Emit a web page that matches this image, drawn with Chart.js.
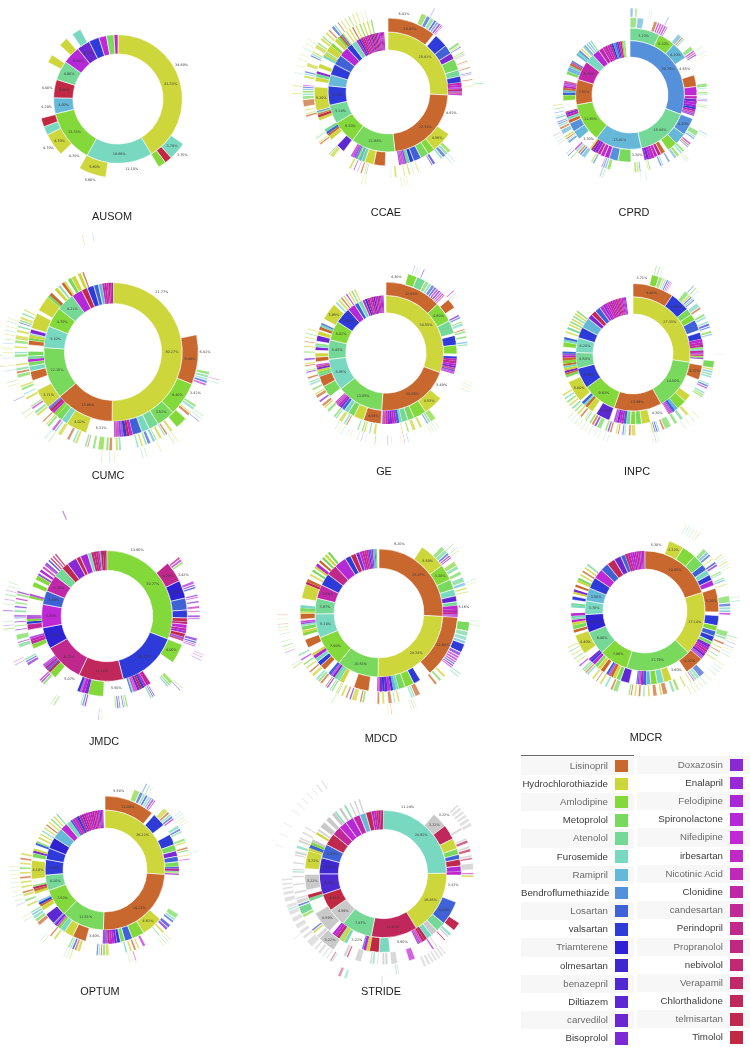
<!DOCTYPE html>
<html><head><meta charset="utf-8">
<script src="https://cdn.jsdelivr.net/npm/chart.js@4"></script>
<style>
html,body{margin:0;padding:0;background:#fff;width:750px;height:1051px;overflow:hidden;font-family:"Liberation Sans",Arial,sans-serif}
canvas{position:absolute;filter:blur(.35px);pointer-events:none}
.t{position:absolute;font-size:10.9px;color:#222;transform:translate(-50%,-50%);white-space:nowrap;filter:blur(.25px)}
.row{position:absolute;height:18.2px;line-height:18.2px;font-size:9.7px;text-align:right;filter:blur(.25px);white-space:nowrap}
.sw{position:absolute;width:12.5px;height:12.5px}
</style></head><body>
<script>
const DRUGS=["Lisinopril","Hydrochlorothiazide","Amlodipine","Metoprolol","Atenolol","Furosemide","Ramipril","Bendroflumethiazide","Losartan","valsartan","Triamterene","olmesartan","benazepril","Diltiazem","carvedilol","Bisoprolol","Doxazosin","Enalapril","Felodipine","Spironolactone","Nifedipine","irbesartan","Nicotinic Acid","Clonidine","candesartan","Perindopril","Propranolol","nebivolol","Verapamil","Chlorthalidone","telmisartan","Timolol"];
const DRUG_COLORS=["#C8682E","#CDD63A","#84D93A","#78D95C","#76D896","#78D8C0","#66B8D8","#5590DA","#3F63D6","#2E3BD9","#2E22D4","#3F28D0","#4E28D2","#5C28D4","#6C28D0","#7C28D4","#8A28D4","#9A28D6","#A828D8","#B428D8","#C028D6","#C028C8","#C028B8","#C028A8","#C02898","#C0288C","#C02880","#C02874","#C02868","#C0285C","#C02850","#C02844","#C9C9C9"];
// -1 = empty arc, -2 = empty arc with a percent label, 32 = unlisted (grey)

const AUSOM_r1v=[41.33,16.66,13.33,4.0,4.6,4.9,4.5,3.3,2.6,1.9,1.9,1.0];
const AUSOM_r1d=[1,5,2,6,31,4,19,14,9,20,3,22];
const AUSOM_r2v=[34.6,3.7,1.5,1.6,11.1,5.6,4.7,4.7,1.8,1.8,4.2,4.4,3.0,1.7,2.5,1.9,1.4,1.9];
const AUSOM_r2d=[-2,5,31,2,-2,1,-2,1,5,31,-2,-2,-1,1,-1,1,-1,5];
const AUSOM_r3v=[34.6,3.7,14.2,5.6,4.7,4.7];
const AUSOM_r3d=[-1,-2,-1,-2,-1,-2];

const CCAE_r1v=[25.81,22.31,11.94,6.3,5.1,5.21,3.0,3.0,2.8,2.6,1.6,1.5,.7,.5,.7,.5,.5,.4,.5,.4,.4,.4,.4,.4,.4,.4,.3,.3,.3,.3];
const CCAE_r1d=[1,0,3,2,4,9,6,9,8,19,9,5,21,9,24,26,22,18,28,20,13,25,30,16,23,19,22,17,27,21];
const CCAE_r2v=[10.63,.6,3,2,1.4,2.5,1.4,1.4,.5,.5,.4,.5,.3,.3,.3,8.92,4.56,1.6,1.8,1.7,.9,.7,.4,.4,.3,.3,.3,3,2.5,2,.8,.6,.4,.4,.4,.4,.3,1.8,1.9,1.7,1,.5,.6,.6,2.2,.7,.5,.4,.3,.3,5.2,1.2,1,.7,.5,.8,1,1.5,.6,.5,.4,1.6,.6,.6,.9,.5,.5,.4,.3,.6,.3,.5,.3,.5,.3,.5,.3,.6,.3,.5,.3,.6,.3,.6,.3];
const CCAE_r2d=[0,-1,9,8,15,3,4,9,23,20,19,26,17,27,21,-2,1,2,3,8,9,4,14,19,22,18,17,-1,0,1,4,6,2,8,15,19,22,-1,13,-1,1,0,8,4,-1,1,30,0,4,8,1,-1,1,4,16,-1,1,-1,5,1,4,1,2,-1,1,3,0,8,1,-1,1,-1,1,-1,0,-1,1,-1,2,-1,1,-1,1,-1,3];
const CCAE_r3v=[6.41,1.1,.8,.8,.5,.5,.5,.3,.2,4,.6,.3,.3,.8,.3,.3,.2,1,.3,.2,.8,.3,.7,.3,.2,.8,.3,1,.2,12.9,.7,.6,.7,.5,1.2,.6,.3,2.5,.3,.7,.2,.5,.4,.6,.3,1.3,.5,.5,.2,4.5,.3,.3,.3,.4,.4,.2,.5,.3,.4,.5,3.5,.8,.3,2.2,.4,.3,.6,.3,.2,4,.5,.3,.4,.3,.5,1.4,.7,.5,.5,.4,.4,.3,1.2,.6,.4,.4,.8,.8,1.2,.4,.4,.4,.6,.9,.4,.5,.6,.4,.5,.5,.3,.4,.4,.6,.4,.4,.3,.4,.3,.5,.3,.5,.3,.5,.3,.5,.3,.6,.2,.6,.2];
const CCAE_r3d=[-2,2,8,4,9,7,16,19,21,-1,3,1,8,-1,2,4,0,-1,0,1,-1,0,-1,8,15,-1,0,-1,1,-1,2,4,8,5,-1,9,14,-1,1,-1,4,-1,1,-1,1,-1,1,-1,4,-1,6,1,-1,0,-1,14,-1,15,-1,1,-1,1,4,-1,0,1,-1,5,1,-1,0,1,-1,1,-1,0,3,5,2,6,8,20,-1,1,5,8,-1,1,-1,8,5,1,-1,1,3,-1,1,3,-1,1,-1,0,-1,8,5,-1,0,-1,1,-1,1,-1,2,-1,1,-1,1,-1,1,-1,3];
const CCAE_r4v=[8,.2,15,.2,.3,14,.2,.4,.2,8,.2,.3,.2,.4,.2,6,.2,.4,.2,20,.3,1,.3,2,.2,1,.2,1,.2,.6,.2,1,.2,.6,.2,.6,.2];
const CCAE_r4d=[-1,9,-1,5,4,-1,6,-1,4,-1,1,-1,1,-1,4,-1,1,-1,1,-1,1,-1,1,-1,5,-1,1,-1,1,-1,1,-1,4,-1,1,-1,1];

const CPRD_r1v=[30.79,15.88,13.81,11.63,7.51,5.74,2.7,2.2,1.4,.7,.7,.7,.6,.6,.6,.5,.5,.5,.5,.4,.3,.3];
const CPRD_r1d=[7,4,6,2,0,23,5,19,23,21,24,20,26,9,7,8,14,22,27,3,1,4];
const CPRD_r2v=[7.23,4.1,4.2,4.65,2.8,2.2,.8,.7,.7,.6,.5,.5,.4,.4,.3,.69,4.3,2.8,2.5,.8,1.1,.9,.9,.7,.6,.6,.5,3.3,3.13,2.2,1.2,1,.8,.7,.6,.5,.4,3.3,2.2,2.2,.9,.7,.6,.5,.3,1,1.6,1.4,.6,.6,.5,.5,.4,.4,.4,1.6,.8,.6,.4,.5,.5,.4,.4,1.6,.5,.5,.4,.3,.3,.4,.4,.4,.3,.3,.3,.3,.3,.3,.3];
const CPRD_r2d=[4,2,6,-2,0,20,22,15,19,17,9,21,24,18,16,-1,7,6,2,-1,0,26,20,22,19,14,18,-2,3,7,19,21,24,17,15,27,1,-2,6,7,0,5,23,16,27,-1,-1,2,8,6,0,22,20,17,25,-1,3,6,7,5,0,25,8,-1,6,5,8,-1,1,-1,4,7,-1,6,-1,6,-1,4,-1];
const CPRD_r3v=[1.4,.1,1.4,2.1,.8,.5,.5,.5,.5,.3,2.5,1,.4,.4,1.8,1,.5,.4,.4,6,.9,.3,.6,.5,.3,.7,.3,.3,.7,.3,.3,5,1.2,.4,.4,.9,.5,.4,.3,.8,.6,.5,.3,.7,.6,1,.5,1,.4,.4,2,.4,.3,1.4,.4,.5,.5,5,.8,.5,.4,.3,1.5,.5,.4,1.4,.9,.5,.5,.5,.5,1.5,.6,.3,.4,.5,.4,1.1,.6,.5,.4,.4,.4,.5,.3,.4,.3,.5,.3,.5,.3];
const CPRD_r3d=[3,-1,6,-1,0,20,21,24,19,15,-1,6,0,5,-1,3,20,23,15,-1,3,5,-1,2,5,-1,8,19,-1,2,3,-1,3,5,7,-1,22,0,8,-1,3,5,-1,2,6,-1,7,-1,5,8,-1,3,1,-1,7,1,2,-1,2,6,8,23,-1,7,1,-1,6,8,0,5,20,-1,7,5,0,1,-1,6,0,5,8,7,-1,6,5,-1,7,-1,3,-1,1];
const CPRD_r4v=[.6,.3,.5,.2,2,.2,.2,.2,3,.3,8,.2,.8,.2,.5,.2,15,.3,.3,.2,5,.2,.2,.2,8,.2,.8,.2,7,.3,.2,.3,6,.3,.4,.3,.3,.2,2,.2,.3,.2,.4,.2,.5,.2];
const CPRD_r4d=[7,-1,3,-1,-1,5,-1,6,-1,7,-1,3,-1,5,-1,1,-1,6,-1,5,-1,2,-1,3,-1,6,-1,5,-1,3,-1,7,-1,3,-1,8,-1,7,-1,3,-1,6,-1,4,-1,23];

const CUMC_r1v=[50.27,13.66,12.15,5.1,4.7,4.21,2.5,1.4,1.6,1.1,.9,.5,.5,.4,.4,.4,.3];
const CUMC_r1d=[1,0,3,5,2,4,19,30,9,8,6,22,25,20,28,23,17];
const CUMC_r2v=[21.77,9.4,6.4,3.52,1.9,1.5,1.8,.6,.5,.6,.4,.4,.4,.3,.3,5.31,4.02,1.2,1.2,.7,.5,.5,.2,.2,.2,3.71,2,1.8,1,.8,.5,.6,.9,1.2,.9,.5,.5,.3,.8,.2,3,.6,3,.5,.6,.8,.6,.3,.4,.4,.5,.4,.5,.7,.9,.5,.6,.3,.3,.5];
const CUMC_r2d=[-2,0,2,3,4,5,8,20,30,9,17,13,21,24,19,-2,1,5,3,2,20,30,9,13,8,1,-1,0,5,3,20,4,3,-1,0,3,1,4,15,-1,1,-1,1,3,0,-1,1,-1,4,-1,0,1,-1,3,1,-1,1,-1,0,-1];
const CUMC_r3v=[21.77,6.41,.6,.5,.4,.5,.4,3.42,.5,.5,.4,.3,.5,.6,2,.8,.5,.5,.4,.3,.4,.5,.4,.3,.5,.3,.6,.4,.3,.4,.3,.4,2.5,.5,.5,.5,.6,.5,.3,1,.4,.5,.6,.3,.4,1.2,.5,.4,.5,.5,1,.7,.3,.4,.5,.5,.5,.3,.4,.3,1,.5,.5,.4,.4,.3,1.1,.5,.4,.3,.5,.5,.4,1.2,.7,.5,.5,.3,.4,1,.6,.4,.5,.4,.4,.6,.8,.4,.5,.3,.4,.3,.3,.4,.5,.3,.4,.3,.3,.5];
const CUMC_r3d=[-1,-2,3,4,5,8,20,-2,3,5,-1,1,0,-1,2,-1,1,-1,0,4,-1,1,-1,3,6,-1,8,4,-1,1,-1,5,-1,5,1,-1,0,3,-1,2,-1,3,-1,0,4,-1,1,5,-1,0,-1,1,-1,5,20,-1,3,1,-1,0,-1,1,4,-1,20,3,-1,1,-1,5,-1,3,1,-1,3,0,4,-1,1,-1,3,5,-1,1,-1,3,1,-1,1,-1,4,-1,8,3,1,-1,4,-1,1,-1];
const CUMC_r4v=[29,.2,.3,.2,5,.2,.3,.2,.3,.2,4,.2,.4,.2,2,.2,2,.2,.4,.2,4,.2,.5,.2,1,.2,8,.2,.5,.2,4,.2,.5,.2,2,.2,2,.2,.4,.2,1.5,.2,.5,.2,1,.2,.6,.2,.4,.2,.6,.2,.4,.2,.5,.2,.4,.2,.4,.2,.5,.2,.3,.2];
const CUMC_r4d=[-1,19,-1,4,-1,3,-1,5,-1,8,-1,1,-1,3,-1,1,-1,3,-1,5,-1,1,-1,4,-1,1,-1,3,-1,5,-1,1,-1,3,-1,8,-1,1,-1,3,-1,6,-1,1,-1,5,-1,1,-1,1,-1,6,-1,3,-1,1,-1,4,-1,1,-1,3,-1,1];
const CUMC_r5v=[72.9,.2,1.3,.2,1,.2,20,.2,1.2,.2];
const CUMC_r5d=[-1,0,-1,3,-1,1,-1,1,-1,5];

const GE_r1v=[30.55,20.69,13.05,8.95,5.45,5.42,4.5,2.2,1.2,1.2,.8,.6,.7,.5,.6,.5,.5,.5,.4,.4,.3,.3];
const GE_r1d=[1,0,3,5,4,2,9,19,8,5,23,9,24,20,26,14,22,18,27,19,16,21];
const GE_r2v=[12.91,4.6,3,.5,2.2,2,.6,.5,.5,.6,.5,.5,.4,.4,.3,.3,.75,5.49,4.53,2.9,1.5,1.4,.6,.6,.5,.5,.5,.5,.5,.4,.4,.27,4.04,2.3,1.5,1,.8,.5,.5,.4,.3,.3,1.4,.3,2.7,2.4,.6,.5,.5,.5,.4,.3,.6,1.1,.9,.6,.8,.4,.4,.5,1.4,1,.3,.7,.5,.4,1,3.95,.5,.4,.4,.4,.4,.3,.4,.3,.4,.3,.4,.3,.4,.3,.4,.3];
const GE_r2d=[0,2,4,-1,9,2,-1,9,22,24,20,15,26,14,18,19,-1,-2,1,2,3,4,5,8,19,22,15,17,20,27,23,-1,0,1,3,5,8,15,22,18,24,20,-1,-1,3,0,4,3,1,15,27,20,-1,0,1,-1,15,5,3,-1,14,1,-1,0,5,8,-1,1,-1,5,-1,1,-1,0,-1,1,-1,19,-1,1,-1,3,-1,1,-1,4];
const GE_r3v=[4.3,1.9,1.8,.8,.6,.7,.5,.5,.5,.4,.4,.3,1,2,1.5,.5,.4,.5,.4,.6,.6,.4,.5,.5,.5,.6,.5,.4,16,1.2,.5,.4,1,.6,.7,.8,.6,.4,.8,.3,5,.6,.5,.4,.6,.5,.4,.5,.4,2,.4,.5,.3,.8,.4,.4,.5,1.1,.6,.4,.5,.6,.4,.5,.5,.7,.4,.6,.5,.6,.5,.4,.4,.5,.7,.4,.3,.6,.4,.4,.4,.5,1,.4,.7,.4,.6,.3,.5,.3,.5,.3,.6,.3];
const GE_r3d=[-2,2,4,3,5,8,9,20,15,22,18,25,-1,0,-1,15,8,-1,3,5,-1,0,3,-1,3,-1,6,4,-1,2,4,7,-1,1,-1,1,-1,2,-1,1,-1,1,-1,4,-1,1,3,-1,4,-1,0,5,-1,1,-1,4,3,-1,3,-1,1,0,-1,15,-1,0,1,-1,3,-1,5,4,-1,0,-1,15,3,-1,0,1,-1,15,-1,3,-1,1,-1,0,-1,1,-1,4,-1,1,-1,3];
const GE_r4v=[5,.2,.3,.2,.3,.2,.5,.3,6,.3,.3,.2,.3,.2,16,.2,.3,.2,.3,.2,.4,.2,8,.2,.4,.2,.3,.2,.3,.2,4,.3,.4,.2,.4,.2,1.5,.2,.5,.2,2,.3,1.5,.2,.5,.2,.5,.2,1.2,.2,.4,.2,.8,.2,.5,.2,.4,.2];
const GE_r4d=[-1,8,-1,6,-1,1,-1,15,-1,19,-1,6,-1,1,-1,1,-1,4,-1,1,-1,3,-1,1,-1,4,-1,3,-1,1,-1,5,-1,19,-1,1,-1,5,-1,15,-1,3,-1,5,-1,19,-1,4,-1,1,-1,5,-1,3,-1,1,-1,4];

const INPC_r1v=[27.33,14.5,13.56,9.63,5.9,4.5,4.2,3.1,3,1.4,1.4,1.6,1,.6,.6,.6,.6,.5,.5,.5,.5,.4,.4,.4,.4,.3,.3,.3];
const INPC_r1d=[1,3,0,2,9,4,5,9,6,15,29,8,19,16,21,20,24,25,18,22,26,23,27,21,19,22,18,17];
const INPC_r2v=[9.4,4.6,1.5,1.5,2.5,.5,1.6,.7,.6,.5,.4,.4,.5,.4,.4,.4,.3,1,.4,3.37,4,1.8,2.3,.7,.6,.3,.3,.3,.2,.2,4.3,2.1,1.3,1.2,1,.6,.5,.5,.5,.4,.4,1,3.3,1,1.5,.6,.5,.6,.5,5,1.1,.6,.5,.5,.6,.5,.5,.7,.7,.5,.4,.5,1,1.2,.6,.5,1,.4,.5,.5,.4,.4,.3,.4,.3,.4,.3,.4,.3,.4,.3,.4,.3];
const INPC_r2d=[0,9,3,2,8,-1,9,20,22,24,3,5,23,19,26,2,15,-1,-1,0,-1,1,2,6,8,15,20,22,19,-1,-2,1,3,2,4,8,22,19,15,20,17,-1,13,-1,1,0,5,8,-1,1,-1,3,0,15,1,5,0,2,0,22,15,8,-1,2,5,8,-1,1,-1,4,-1,1,-1,3,-1,1,-1,4,-1,1,-1,3,-1];
const INPC_r3v=[3.71,1.5,.8,.4,.4,.4,.3,.3,.2,3,1,.5,.4,.4,.3,.6,1,.5,1,.6,.5,.5,.5,.6,.4,.5,.6,.4,5,1.5,.5,.5,.5,.5,1,.4,.5,.4,.6,.5,.4,.4,4,.7,.7,.7,.7,.7,.7,1.4,.5,.5,.4,.4,.4,.4,3.2,1,.5,.5,.4,.4,.5,.4,.4,.7,.5,.5,.5,.7,1,.6,.6,.5,.5,.4,.3,.5,.5,.3,.5,.3,.4,.3,.5,.3,.5,.3,.5,.3,.5,.3,.5,.3];
const INPC_r3d=[-2,2,3,1,5,9,14,19,20,-1,3,1,8,4,9,-1,5,0,-1,3,5,-1,5,9,8,-1,2,6,-1,3,1,6,4,5,-1,5,8,19,-1,5,2,3,-1,1,-1,4,-1,3,-1,3,0,-1,5,9,8,1,-1,1,0,-1,5,8,-1,0,1,-1,0,15,3,-1,3,15,0,2,-1,5,1,-1,0,-1,1,-1,3,-1,4,-1,1,-1,3,-1,5,-1,1,-1];
const INPC_r4v=[4,.3,.3,.3,.3,.2,6,.3,.3,.3,.4,.2,12,.2,12,.2,.8,.2,.8,.2,.8,.2,5,.2,.3,.2,.3,.2,8,.2,.5,.2,.8,.2,.6,.2,.8,.2,.6,.2,.5,.2,.6,.2,.5,.2,.6,.2,.5,.2];
const INPC_r4d=[-1,3,-1,3,-1,5,-1,7,-1,3,-1,5,-1,4,-1,1,-1,3,-1,1,-1,3,-1,3,-1,8,-1,1,-1,5,-1,3,-1,1,-1,5,-1,3,-1,1,-1,4,-1,1,-1,3,-1,5,-1,1];

const JMDC_r1v=[30.77,15.2,11.1,9.72,5.3,5.8,3.4,4.2,2.5,1.7,2.5,1.1,1.9,.9,.6,.6,.5,.4,.3,.5,.5,.4];
const JMDC_r1d=[2,9,29,25,10,20,8,23,4,30,16,30,18,5,27,26,28,20,6,30,29,25];
const JMDC_r2v=[13.6,4.2,3.6,2.4,1.6,.8,.5,.8,.5,.5,.8,.4,.4,.7,4,6,1,.5,.5,.5,.5,.4,.4,.3,.3,5.5,3.12,.7,.6,.4,.5,5.07,1.5,.5,.4,.5,.4,.3,3.6,1,.6,.5,.4,1.4,1.2,.5,.5,.4,.4,3.4,.5,.4,1.5,1,.5,1,.4,.4,.5,.4,.4,.3,.3,.4,.4,.3,.3,.3,.3,.3,.3,.3,.3];
const JMDC_r2d=[-2,25,10,8,9,30,26,20,22,18,30,16,27,-1,2,-1,24,19,9,30,15,20,21,5,8,-2,2,15,19,22,9,-2,2,30,9,24,16,20,-1,2,24,22,18,-1,24,9,2,18,17,-1,2,18,-1,2,-1,2,15,-1,19,-1,23,-1,20,15,-1,9,-1,30,-1,26,-1,29,-1];
const JMDC_r3v=[14,.5,.5,.4,3.42,.6,.4,.4,1,.4,.3,.4,.4,.5,.5,.3,.3,.5,.5,.3,3.2,.6,.4,.3,.3,7,.7,.4,.3,2.5,.3,.3,.4,4,.4,.3,.3,.3,.3,.4,.3,5,.4,.4,.3,7,.5,.4,.4,3,.6,.4,.4,2,.8,.3,.3,1,.6,.3,.4,.3,.4,.3,.4,.3,.4,.4,.5,.3,.4,.3,.4,.3,.4,.3,.5,.4,.3];
const JMDC_r3d=[-1,24,19,2,-2,19,16,9,-1,16,21,-1,16,-1,22,-1,21,-1,16,19,-1,15,9,16,20,-1,2,3,6,-1,16,9,4,-1,3,2,8,-1,15,8,2,-1,16,8,4,-1,3,18,19,-1,16,8,4,-1,4,16,-1,3,-1,16,-1,3,-1,15,-1,9,16,-1,4,-1,15,-1,3,-1,22,-1,3,16,-1];
const JMDC_r4v=[31,.2,.2,.2,.3,.2,5,.2,.2,.2,13,.2,.3,.2,7,.3,.2,.2,8,.2,.3,.2,5,.3,.3,.2,.4,.2,1.5,.3,.8,.2,.5,.2,.5,.3,.4,.2,.5,.2,.4,.2];
const JMDC_r4d=[-1,19,-1,19,-1,16,-1,3,-1,15,-1,1,-1,15,-1,3,-1,3,-1,15,-1,18,-1,2,-1,15,-1,3,-1,16,-1,3,-1,16,-1,3,-1,19,-1,3,-1,3];
const JMDC_r5v=[93.5,.3];
const JMDC_r5d=[-1,16];

const MDCD_r1v=[25.87,24.38,10.53,7.9,6.1,3.97,3.5,3.1,2.7,3.1,1.5,1.4,1,.6,.6,.5,.5,.4,.4,.4,.4,.3,.3];
const MDCD_r1d=[0,1,3,2,5,4,23,9,25,19,9,30,15,20,24,26,22,16,8,21,6,7,3];
const MDCD_r2v=[9.2,5.5,3.3,2.1,1.4,1.2,.8,.7,.6,.5,.3,.3,12.9,2.4,1.5,1.9,1.4,.5,.6,.5,.6,.6,.5,.5,.3,.3,1.7,3.11,2.2,1,.6,.6,.5,.4,.6,1,1.2,1,.8,.7,.5,.6,.8,1.8,.8,.6,.5,.9,.4,.3,.4,.3,1.2,.4,.7,.6,.3,.7,.4,3,.5,.6,.8,.4,.5,.5,.4,.5,.6,.4,.5,.4,.5,.3,.5,.3,.5,.3];
const MDCD_r2d=[-2,1,2,3,5,13,4,20,22,24,18,19,0,-1,9,2,3,5,6,9,20,14,9,15,22,19,-1,0,-1,1,5,4,15,20,8,-1,0,9,5,19,1,-1,-1,0,-1,2,1,3,5,15,20,-1,0,1,3,5,-1,-1,-1,1,29,0,-1,1,-1,3,-1,1,19,-1,0,-1,3,-1,1,-1,3,-1];
const MDCD_r3v=[12,.8,.7,.5,.4,.3,.7,.9,.7,.4,.7,.4,1,.6,.3,.4,.3,.3,5.16,1.7,.9,.8,.6,1.6,.7,.5,.5,.4,.4,.4,.3,1.6,.5,.5,.5,.5,.5,3,1,.4,.4,2,.4,.4,.3,.3,.7,.6,.5,.4,.5,.7,1.5,.5,.4,.5,1,.4,.3,.4,.4,.5,.4,.3,.3,.5,.4,.3,.3,.4,.3,.6,.5,.5,.5,.4,.6,.3,.4,.5,.4,.4,.4,.5,.4,.5,.4];
const MDCD_r3d=[-1,3,4,8,22,15,-1,2,4,-1,3,-1,4,6,-1,1,-1,1,-2,3,4,5,6,9,15,20,19,22,8,17,18,-1,1,-1,3,-1,0,-1,0,4,5,-1,1,-1,4,-1,0,-1,1,-1,0,-1,-1,3,0,-1,1,15,-1,0,-1,1,-1,4,1,-1,3,4,-1,15,0,-1,0,3,5,-1,1,-1,0,-1,1,-1,3,-1,20,-1,4];
const MDCD_r4v=[13,.2,.6,.2,.3,.2,5,.2,.3,.2,6,.2,.5,.2,8,.3,.2,.3,8,.2,.2,.2,.2,.2,3,.2,.3,.2,9,.2,8,.3,.2,.2,2,.2,.3,.2,.3,.3,.5,.2,1,.2,.4,.2,.3,.2,.3,.2,.6,.2,.5,.2];
const MDCD_r4d=[-1,3,-1,4,-1,1,-1,4,-1,1,-1,3,-1,3,-1,4,-1,5,-1,1,-1,6,-1,1,-1,0,-1,1,-1,2,-1,1,-1,5,-1,15,-1,1,-1,3,-1,3,-1,4,-1,1,-1,3,-1,0,-1,1,-1,0];

const MDCR_r1v=[20.03,17.14,17.79,7.8,6.4,4.9,3.7,3.5,3.1,2.7,2.2,2.2,1.9,1.2,.7,.7,.6,.6,.5,.5,.5,.4,.4,.4];
const MDCR_r1d=[0,1,3,2,4,10,5,6,9,20,8,29,14,8,26,24,20,18,22,25,19,21,23,17];
const MDCR_r2v=[5.3,3.32,3.1,2.5,1.4,1.2,1.3,1.2,.7,5.2,.8,2.2,1.2,1.2,1.2,.8,.7,.6,.5,.5,.5,.4,.4,4.22,3.6,1.8,1.5,1.4,1,.7,.5,.4,.3,.3,1.5,2,1,.8,.7,.4,.5,.5,1,.8,.8,.8,.5,.5,1.5,4.4,.6,.7,1,.6,.5,.4,.5,.6,1.2,.5,.5,.7,.8,.5,.5,.5,.6,.5,.6,.5,.5,.5,.4,.5,.4,.5,.4,.5,.4];
const MDCR_r2d=[-2,1,2,3,8,5,9,19,-1,0,-1,9,2,8,9,3,15,19,24,21,14,17,18,0,-2,1,5,2,6,8,22,19,15,8,-1,13,3,1,0,20,8,-1,0,1,3,19,9,15,-1,1,-1,0,3,1,20,4,5,20,-1,5,4,-1,9,-1,1,15,-1,0,-1,1,3,-1,1,-1,0,-1,1,-1,4];
const MDCR_r3v=[12,.8,.6,.5,.5,.3,.5,.5,.5,1,.4,.3,.6,.4,.4,.5,.3,2,1.4,.7,.6,.5,.5,3,1.2,.5,.5,.5,.5,.3,.5,.3,.6,.3,.5,.3,3,1.2,.6,.5,.3,.3,.3,1,.4,1,.6,.3,.6,.4,.4,1,.5,.5,.8,.5,.5,.5,.4,.4,.5,.3,.5,.3,.4,.4,2,1,.5,.7,.5,.6,.5,.5,.3,.4,.5,.8,.5,.4,.4,.4,.5,.4,.5,.3,.5,.3,.5,.3,.5,.3,.5,.3];
const MDCR_r3d=[-1,3,6,8,-1,1,-1,9,15,-1,3,5,-1,4,6,-1,1,-1,3,8,5,6,20,-1,3,4,-1,0,-1,1,-1,0,-1,4,-1,1,-1,8,5,4,20,-1,1,-1,1,-1,2,-1,4,-1,-1,0,1,-1,0,-1,1,-1,4,-1,0,-1,1,-1,0,3,-1,3,0,-1,5,-1,1,-1,0,-1,1,-1,5,0,3,4,-1,20,-1,1,-1,3,-1,1,-1,4,-1,1];
const MDCR_r4v=[7,.2,.3,.2,.3,.2,.3,.2,.4,.2,.3,.2,5,.3,.2,.2,.3,.2,.2,.3,.3,.2,.3,.2,5,.2,.4,.3,6,.3,.3,.2,.3,.2,.5,.2,.3,.2,.3,.2,.4,.2,1.5,.2,.5,.2,.5,.2,.5,.2,1,.2,.8,.2,.5,.2,.6,.2,.5,.2,.6,.2];
const MDCR_r4d=[-1,3,-1,5,-1,4,-1,3,-1,1,-1,3,-1,1,-1,5,-1,4,-1,1,-1,4,-1,1,-1,3,-1,5,-1,4,-1,1,-1,8,-1,8,-1,1,-1,5,-1,3,-1,1,-1,4,-1,5,-1,3,-1,1,-1,4,-1,1,-1,3,-1,1,-1,3];

const OPTUM_r1v=[26.22,24.21,11.51,7.5,4.2,4.2,3.1,3.1,2.9,2,1.3,.5,.7,.7,.7,.7,.6,.6,.6,.6,.6,.5,.5,.5,.4,.4,.4,.3];
const OPTUM_r1d=[1,0,3,2,4,9,9,10,6,20,5,8,20,23,9,24,16,26,21,22,18,28,20,25,19,15,17,23];
const OPTUM_r2v=[11,.6,3,2.4,2.4,1.4,1.2,1.2,1.1,.4,.5,.4,.2,.3,.5,10,4.62,2.7,1.7,1,.8,.5,.5,.5,.5,.4,.4,.3,.3,3.4,3,2,1.2,.6,.4,.5,.3,2.5,1,1,.5,.5,.4,1.6,.6,.5,.5,.4,1.3,4.1,.6,1,.5,.5,.8,.5,.4,.6,.4,.5,.3,.5,.3,.5,.3,.5,.3,.5,.3,.5,.3,.5,.3,.5,.3];
const OPTUM_r2d=[0,-1,9,-1,9,3,15,8,3,9,24,4,1,17,-1,-1,1,2,8,3,9,15,19,21,24,17,14,16,-1,-2,0,1,5,2,20,15,8,13,-1,1,0,9,6,-1,1,0,29,3,-1,1,-1,3,15,1,-1,8,3,-1,1,-1,1,-1,5,-1,1,-1,0,-1,1,-1,3,-1,1,-1,4];
const OPTUM_r3v=[5.5,1.2,.7,.5,.5,.5,.4,.5,.3,2,1,.5,.5,.5,.4,1.2,.7,.5,.4,1.1,.6,.4,.7,.5,.4,.5,.3,.5,.3,.5,10,1,.5,.5,.5,.7,.6,.4,.5,.5,.3,3,.6,.6,.4,.3,.5,.3,.5,.4,.5,.5,2.5,.7,.6,.4,.4,.4,3,.7,.5,.5,.4,.4,2.6,.5,.5,.4,1.4,1.2,.8,.7,.7,.5,.4,1,.5,.5,.5,.5,.6,.5,.5,.5,.4,.5,.4,.5,.4,.5,.4,.5,.4,.5,.4,.5,.4,.5,.4];
const OPTUM_r3d=[-2,2,8,4,9,5,7,19,16,-1,1,0,5,8,20,-1,5,8,4,-1,3,1,-1,0,3,-1,1,-1,20,-1,-1,3,5,8,-1,9,15,-1,1,-1,4,-1,20,-1,1,-1,0,-1,1,-1,5,-1,-1,1,3,0,5,8,-1,1,0,9,5,3,-1,1,-1,0,-1,-1,0,3,5,6,4,-1,1,-1,3,-1,1,0,-1,1,-1,1,-1,0,-1,1,-1,3,-1,1,-1,0,-1,1,-1];
const OPTUM_r4v=[7,.3,.3,.3,.3,.2,6,.2,.3,.2,.4,.2,.3,.2,.3,.2,5,.2,16,.2,.3,.2,.3,.2,.3,.2,5,.3,.3,.2,.3,.2,10,.3,.3,.2,.3,.2,4,.2,.3,.2,4,.2,.5,.2,2,.2,.6,.2,.6,.2,.6,.2,.5,.2,.6,.2,.5,.2,.5,.2,.5,.2,.5,.2];
const OPTUM_r4d=[-1,8,-1,4,-1,5,-1,5,-1,4,-1,3,-1,1,-1,4,-1,5,-1,1,-1,3,-1,4,-1,1,-1,20,-1,1,-1,3,-1,1,-1,3,-1,4,-1,1,-1,5,-1,3,-1,1,-1,7,-1,3,-1,4,-1,1,-1,3,-1,4,-1,1,-1,1,-1,4,-1,1];

const STRIDE_r1v=[24.92,16.45,11.81,7.87,4.59,4.41,5.3,4.1,3.55,3.1,2.3,2,2.2,1.8,1.6,1.5,.6,.6,.5,.5,.4,.3];
const STRIDE_r1d=[5,1,29,4,32,31,12,11,8,30,24,20,19,23,6,30,19,21,27,29,25,26];
const STRIDE_r2v=[11.24,3.22,3.1,2.2,1.2,1,1.4,1.2,.6,.7,3.32,1.7,5,2,1.4,1.2,.6,.5,.4,.4,.3,5.9,2.2,2,.7,.6,.3,3.22,.8,.7,.4,.6,.6,.5,.8,4.59,2.7,.7,.7,1,3.22,1.2,3.72,.6,.7,.6,.6,1.2,.5,.3,.4,.5,1.3,.5,1,.6,.8,.4,.7,.5,.7,.4,.8,.3,.7,.3,.7,.3];
const STRIDE_r2d=[-2,32,29,1,3,8,30,19,21,-1,-2,-1,8,4,32,5,29,30,20,22,16,-2,5,31,1,20,8,-2,5,1,4,29,21,19,-1,32,-1,4,31,-1,32,-1,1,1,8,2,32,-1,1,-1,32,-1,32,-1,32,-1,32,5,-1,32,-1,4,-1,32,-1,32,-1,32];
const STRIDE_r3v=[11.24,3.22,2,.5,.5,1,.4,.6,.5,.5,.6,.5,.5,.4,.6,1.2,.5,.4,.5,3.32,1.7,3.4,1.6,.7,.6,.4,.5,.3,.5,1,.3,.4,.4,.4,3,1.2,2,1.2,.5,.6,.5,.6,.3,.4,.5,.4,1.5,1.2,.7,.5,.4,.6,.4,1.5,3.22,.7,.5,.5,.4,2.5,.6,1.5,.5,.8,.4,.6,.5,1,.4,1,.4,.5,.4,.4,.8,.4,1,.4,.6,.4,.6,.5,.6,.4,.7,.4,.7,.3,.7];
const STRIDE_r3d=[-1,-2,-1,32,-1,-1,32,29,-1,32,30,-1,32,29,-1,32,-1,20,1,-1,-1,-1,30,-1,5,32,-1,30,-1,-1,32,-1,20,-1,-1,20,-1,32,-1,32,32,-1,32,-1,5,32,-1,32,-1,-1,29,32,-1,-1,32,32,-1,1,8,-1,2,4,8,32,32,-1,32,-1,32,-1,32,-1,5,32,-1,32,-1,32,32,-1,5,-1,32,32,-1,32,-1,32,-1];
const STRIDE_r4v=[13,.4,.2,.5,.2,.5,.2,.5,.2,.6,.2,.6,.2,22,.3,.2,.4,.2,.4,.2,.4,.2,.4,.2,.5,.2,.5,4,.3,.3,.2,10,.3,.3,.4,.3,.4,.3,.4,.5,.4,.4,.4,1.2,.5,.5,.4,.6,.4,.8,.4,.8,.4,.8,.4,.6,.4,.8,.3,.6,.3,.4,.3,.4,.3,.4,.3];
const STRIDE_r4d=[-1,32,-1,32,-1,32,-1,32,-1,32,-1,32,-1,-1,32,-1,32,-1,32,-1,32,-1,32,-1,32,-1,32,-1,32,5,-1,-1,5,29,-1,32,-1,32,-1,32,-1,32,-1,32,-1,32,-1,32,-1,32,-1,32,-1,32,5,32,-1,32,-1,32,-1,32,-1,32,-1,32,-1];
const STRIDE_r5v=[50,.3,5,.5,.4,.5,.2,8,.2,14,.2,1.5,.2,1.5,.2,2,.2,1,.2,.8,.2,.8,.2,.8,.2,.6,.3,.6,.3];
const STRIDE_r5d=[-1,32,-1,5,-1,29,32,-1,32,-1,32,-1,32,-1,32,-1,32,-1,32,-1,32,-1,32,-1,32,-1,32,-1,32];

const PANELS=[
 {name:"AUSOM",tx:112,ty:216,cx:118.3,cy:99,hole:46,rings:[[AUSOM_r1v,AUSOM_r1d],[AUSOM_r2v,AUSOM_r2d],[AUSOM_r3v,AUSOM_r3d]]},
 {name:"CCAE",tx:386,ty:212,cx:387.6,cy:92.2,hole:43,rings:[[CCAE_r1v,CCAE_r1d],[CCAE_r2v,CCAE_r2d],[CCAE_r3v,CCAE_r3d],[CCAE_r4v,CCAE_r4d]]},
 {name:"CPRD",tx:634,ty:212,cx:630,cy:94.7,hole:39,rings:[[CPRD_r1v,CPRD_r1d],[CPRD_r2v,CPRD_r2d],[CPRD_r3v,CPRD_r3d],[CPRD_r4v,CPRD_r4d]]},
 {name:"CUMC",tx:108,ty:475,cx:112.7,cy:352.3,hole:49.5,rings:[[CUMC_r1v,CUMC_r1d],[CUMC_r2v,CUMC_r2d],[CUMC_r3v,CUMC_r3d],[CUMC_r4v,CUMC_r4d],[CUMC_r5v,CUMC_r5d]]},
 {name:"GE",tx:384,ty:471,cx:386.3,cy:353.3,hole:41.3,rings:[[GE_r1v,GE_r1d],[GE_r2v,GE_r2d],[GE_r3v,GE_r3d],[GE_r4v,GE_r4d]]},
 {name:"INPC",tx:637,ty:471,cx:633,cy:353.7,hole:41,rings:[[INPC_r1v,INPC_r1d],[INPC_r2v,INPC_r2d],[INPC_r3v,INPC_r3d],[INPC_r4v,INPC_r4d]]},
 {name:"JMDC",tx:104,ty:741,cx:107.3,cy:615.5,hole:46.7,rings:[[JMDC_r1v,JMDC_r1d],[JMDC_r2v,JMDC_r2d],[JMDC_r3v,JMDC_r3d],[JMDC_r4v,JMDC_r4d],[JMDC_r5v,JMDC_r5d]]},
 {name:"MDCD",tx:381,ty:738,cx:378.7,cy:613.3,hole:45.7,rings:[[MDCD_r1v,MDCD_r1d],[MDCD_r2v,MDCD_r2d],[MDCD_r3v,MDCD_r3d],[MDCD_r4v,MDCD_r4d]]},
 {name:"MDCR",tx:646,ty:737,cx:645.2,cy:611.3,hole:43,rings:[[MDCR_r1v,MDCR_r1d],[MDCR_r2v,MDCR_r2d],[MDCR_r3v,MDCR_r3d],[MDCR_r4v,MDCR_r4d]]},
 {name:"OPTUM",tx:100,ty:991,cx:104.5,cy:870.3,hole:43,rings:[[OPTUM_r1v,OPTUM_r1d],[OPTUM_r2v,OPTUM_r2d],[OPTUM_r3v,OPTUM_r3d],[OPTUM_r4v,OPTUM_r4d]]},
 {name:"STRIDE",tx:381,ty:991,cx:382.6,cy:873.7,hole:45.5,rings:[[STRIDE_r1v,STRIDE_r1d],[STRIDE_r2v,STRIDE_r2d],[STRIDE_r3v,STRIDE_r3d],[STRIDE_r4v,STRIDE_r4d],[STRIDE_r5v,STRIDE_r5d]]}
];
const RING_WEIGHTS=[.414,.318,.268,.236,.213];
const RING_ALPHA=[1,1,.72,.55,.5];
const RING_EDGE=[.6,.6,.8,.8,.8];

const percentLabels={id:"percentLabels",afterDatasetsDraw(chart){
  const c=chart.ctx;c.save();c.font='3.4px "DejaVu Sans"';c.fillStyle="#3a3a3a";c.textAlign="center";c.textBaseline="middle";
  chart.data.datasets.forEach((ds,k)=>{chart.getDatasetMeta(k).data.forEach((arc,i)=>{
    if(ds.drugs[i]===-1||ds.data[i]<3.2)return;
    const p=arc.getCenterPoint();c.fillText(ds.data[i].toFixed(2)+"%",p.x,p.y);
  });});c.restore();}};

function tint(hex,a){const n=parseInt(hex.slice(1),16);return `rgba(${n>>16},${(n>>8)&255},${n&255},${a})`;}
function makeDataset(pair,k){
  const v=pair?[...pair[0]]:[],d=pair?[...pair[1]]:[];
  const s=v.reduce((a,b)=>a+b,0);
  if(s<100){v.push(100-s);d.push(-1);}
  return {data:v,drugs:d,weight:RING_WEIGHTS[k],
    backgroundColor:d.map((i,j)=>{
      if(i<0||i===undefined)return "rgba(0,0,0,0)";
      const big=v[j]>=1.5;
      const a=big?1:(k===1&&v[j]<.45?.8:RING_ALPHA[k]);
      return tint(DRUG_COLORS[i],a);}),
    borderColor:"#fff",
    borderWidth:v.map((x,j)=>{
      if(!(d[j]>=0))return 0;
      if(k<2)return x>=.8?RING_EDGE[k]:0;
      return RING_EDGE[k];}),
    hoverOffset:0};
}
PANELS.forEach(p=>{
  const R=p.hole*2.449,S=2*Math.ceil(R)+4;
  const cv=document.createElement("canvas");cv.width=S;cv.height=S;
  cv.style.cssText=`left:${p.cx-S/2}px;top:${p.cy-S/2}px;width:${S}px;height:${S}px`;
  document.body.appendChild(cv);
  const ds=[];for(let k=4;k>=0;k--)ds.push(makeDataset(p.rings[k],k));
  new Chart(cv,{type:"doughnut",data:{labels:ds[0].data.map((_,i)=>i),datasets:ds},plugins:[percentLabels],
    options:{responsive:false,animation:false,events:[],cutout:p.hole,radius:R,layout:{padding:0},
      plugins:{legend:{display:false},tooltip:{enabled:false}}}});
  const t=document.createElement("div");t.className="t";t.textContent=p.name;t.style.left=p.tx+"px";t.style.top=p.ty+"px";document.body.appendChild(t);
});
(function(){
  const add=(h)=>{const e=document.createElement("div");e.innerHTML=h;document.body.appendChild(e.firstChild);};
  add('<div style="position:absolute;left:521px;top:755px;width:113px;height:1px;background:#666"></div>');
  DRUGS.forEach((n,i)=>{
    const col=i<16?0:1,r=col?i-16:i,y=(col?755.7:756.6)+r*18.18;
    const L=col?637:521,W=113,tx=col?723:608,sx=col?730:615;
    if(r%2===0)add(`<div style="position:absolute;left:${L}px;top:${y}px;width:${W}px;height:18.2px;background:#f7f7f7"></div>`);
    add(`<div class="row" style="left:${L}px;width:${tx-L}px;top:${y}px;color:${r%2?'#3a3a3a':'#6a6a6a'}">${n}</div>`);
    add(`<div class="sw" style="left:${sx}px;top:${y+2.9}px;background:${DRUG_COLORS[i]}"></div>`);
  });
})();
</script>
</body></html>
